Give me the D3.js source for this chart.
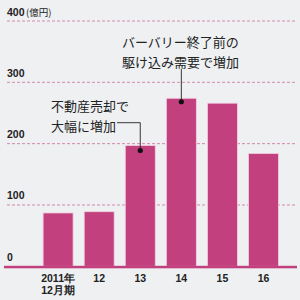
<!DOCTYPE html>
<meta charset="utf-8">
<script src="https://d3js.org/d3.v7.min.js"></script>
<style>
  body { margin: 0; background: #eef0f2; }
</style>
<div id="my_dataviz"></div>
<script>

// data
var years = ["2011", "12", "13", "14", "15", "16"];
var values = [87, 89, 197, 274, 266, 184];
var yTicks = [0, 100, 200, 300, 400];

var width = 300, height = 300;

var svg = d3.select("#my_dataviz")
  .append("svg")
    .attr("width", width)
    .attr("height", height)
    .style("display", "block");

svg.append("rect").attr("width", width).attr("height", height).attr("fill", "#eef0f2");

var x = d3.scaleBand().domain(years).range([32, 289.6]).paddingInner(0.27).paddingOuter(0.27);
var y = d3.scaleLinear().domain([0, 400]).range([266.3, 21]);

var numFont = "'Liberation Sans', Arial, sans-serif";
var jpFont = "'Noto Sans CJK JP', sans-serif";

// gridlines
svg.append("g")
  .selectAll("line")
  .data(yTicks.filter(function(d) { return d > 0; }))
  .enter().append("line")
    .attr("x1", 7).attr("x2", 297)
    .attr("y1", function(d) { return y(d); })
    .attr("y2", function(d) { return y(d); })
    .attr("stroke", "#cf6f9c")
    .attr("stroke-width", 0.8)
    .attr("stroke-dasharray", "3,2");

// y labels
svg.append("g")
  .selectAll("text")
  .data(yTicks)
  .enter().append("text")
    .attr("x", 7)
    .attr("y", function(d) { return y(d) - 5.5; })
    .attr("font-family", numFont)
    .attr("font-weight", "bold")
    .attr("font-size", "10.5px")
    .attr("fill", "#222")
    .text(function(d) { return d; });

svg.append("text")
  .attr("x", 26).attr("y", y(400) - 5.5)
  .attr("font-family", jpFont)
  .attr("font-size", "9.5px")
  .attr("fill", "#222")
  .text("(億円)");

// bars
svg.append("g")
  .selectAll("rect")
  .data(values)
  .enter().append("rect")
    .attr("x", function(d, i) { return x(years[i]); })
    .attr("y", function(d) { return y(d); })
    .attr("width", x.bandwidth())
    .attr("height", function(d) { return y(0) - y(d); })
    .attr("fill", "#c2407e")
    .attr("stroke", "#f3d0e0")
    .attr("stroke-width", 0.8);

// baseline
svg.append("rect")
  .attr("x", 4).attr("y", y(0) - 0.5)
  .attr("width", 293).attr("height", 2.5)
  .attr("fill", "#c2407e");

// x labels
var xl = svg.append("g")
  .selectAll("text")
  .data(years)
  .enter().append("text")
    .attr("x", function(d) { return x(d) + x.bandwidth() / 2; })
    .attr("y", 282)
    .attr("text-anchor", "middle")
    .attr("font-family", numFont)
    .attr("font-weight", "bold")
    .attr("font-size", "10.5px")
    .attr("fill", "#222")
    .text(function(d, i) { return i === 0 ? d + "年" : d; });

svg.append("text")
  .attr("x", x(years[0]) + x.bandwidth() / 2).attr("y", 294)
  .attr("text-anchor", "middle")
  .attr("font-family", numFont)
  .attr("font-weight", "bold")
  .attr("font-size", "10.5px")
  .attr("fill", "#222")
  .text("12月期");

// annotations
function note(lines, tx, ty) {
  lines.forEach(function(t, i) {
    svg.append("text")
      .attr("x", tx).attr("y", ty + i * 19.5)
      .attr("font-family", jpFont)
      .attr("font-size", "13px")
      .attr("fill", "#222")
      .text(t);
  });
}

var c4 = x("14") + x.bandwidth() / 2;
var c3 = x("13") + x.bandwidth() / 2;

note(["バーバリー終了前の", "駆け込み需要で増加"], 122, 47);
svg.append("line")
  .attr("x1", c4).attr("x2", c4)
  .attr("y1", 69).attr("y2", y(values[3]) + 3.5)
  .attr("stroke", "#222").attr("stroke-width", 0.9);
svg.append("circle").attr("cx", c4).attr("cy", y(values[3]) + 3.5).attr("r", 2.6).attr("fill", "#111");

note(["不動産売却で", "大幅に増加"], 51, 111);
svg.append("path")
  .attr("d", "M 117,122.7 H " + c3 + " V " + (y(values[2]) + 5))
  .attr("stroke", "#222").attr("stroke-width", 0.9).attr("fill", "none");
svg.append("circle").attr("cx", c3).attr("cy", y(values[2]) + 5).attr("r", 2.6).attr("fill", "#111");

</script>
